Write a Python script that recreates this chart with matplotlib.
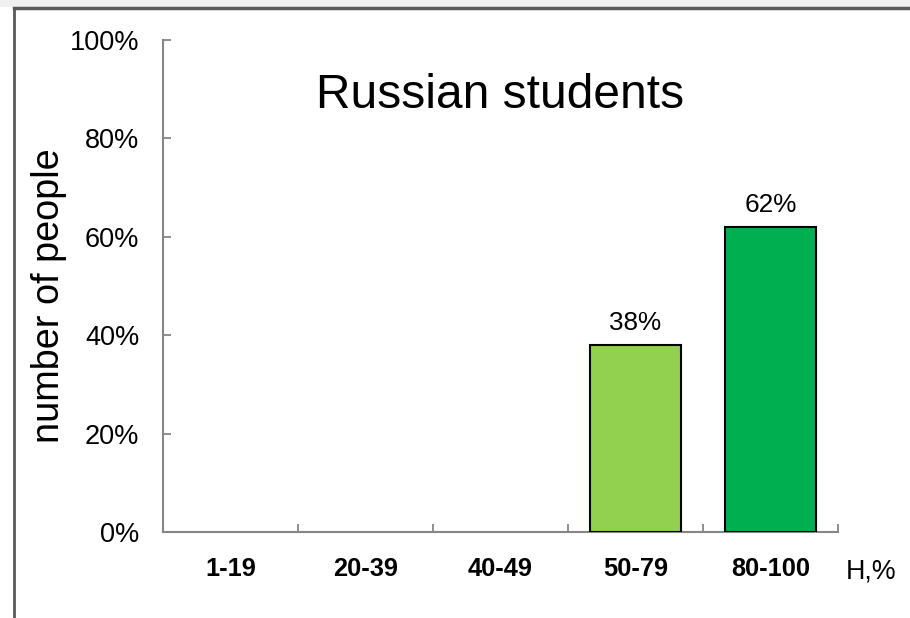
import matplotlib
matplotlib.use("Agg")
import matplotlib.pyplot as plt
from matplotlib.patches import Rectangle
import numpy as np

plt.rcParams['font.family'] = ['Liberation Sans', 'DejaVu Sans']

categories = ["1-19", "20-39", "40-49", "50-79", "80-100"]
values = [0, 0, 0, 38, 62]
bar_colors = ["#92D050", "#92D050", "#92D050", "#92D050", "#00B050"]
yticks = [0, 20, 40, 60, 80, 100]
title = "Russian students"
ylabel = "number of people"
xunit = "H,%"

W, H = 910, 618
fig = plt.figure(figsize=(W/100, H/100), dpi=100)
fig.patch.set_facecolor("white")

# frame decoration
fig.add_artist(Rectangle((0, 1 - 7/H), 1, 7/H, transform=fig.transFigure,
                         facecolor="#f0f0f0", edgecolor="none"))
fig.add_artist(plt.Line2D([14/W, 1], [1 - 8/H, 1 - 8/H], transform=fig.transFigure,
                          color="#595959", linewidth=2.5))
fig.add_artist(plt.Line2D([14/W, 14/W], [0, 1 - 8/H], transform=fig.transFigure,
                          color="#595959", linewidth=2))

ax = fig.add_axes([163/W, 1 - 532/H, (838 - 163)/W, (532 - 40)/H])
x = np.arange(len(categories))
nonzero = [i for i, v in enumerate(values) if v > 0]
ax.bar([x[i] for i in nonzero], [values[i] for i in nonzero], width=0.68,
       color=[bar_colors[i] for i in nonzero], edgecolor="black", linewidth=1.5, zorder=3)
for i in nonzero:
    ax.annotate(f"{values[i]}%", (x[i], values[i]), xytext=(0, 7), textcoords="offset points",
                ha="center", va="bottom", fontsize=18.8)

ax.set_xlim(-0.5, len(categories) - 0.5)
ax.set_ylim(0, 100)
ax.set_yticks(yticks)
ax.set_yticklabels([f"{t}%" for t in yticks], fontsize=19.5)
ax.set_xticks(x)
ax.set_xticklabels(categories, fontsize=18.3, fontweight="bold")
ax.set_xticks(np.arange(len(categories) + 1) - 0.5, minor=True)
ax.tick_params(axis="x", which="major", length=0, pad=18)
ax.tick_params(axis="x", which="minor", direction="in", length=6, width=1.3, color="#868686")
ax.tick_params(axis="y", direction="in", length=6, width=1.3, color="#868686", pad=17)

for s in ["top", "right"]:
    ax.spines[s].set_visible(False)
for s in ["left", "bottom"]:
    ax.spines[s].set_color("#868686")
    ax.spines[s].set_linewidth(1.5)

ax.text(0.5, (532 - 96)/492, title, transform=ax.transAxes, ha="center", va="center",
        fontsize=34.5)
fig.text(49/W, 1 - 296/H, ylabel, rotation=90, ha="center", va="center", fontsize=27.3)
fig.text(871/W, 1 - 572/H, xunit, ha="center", va="center", fontsize=19.3)

fig.savefig("out.png", dpi=100)
